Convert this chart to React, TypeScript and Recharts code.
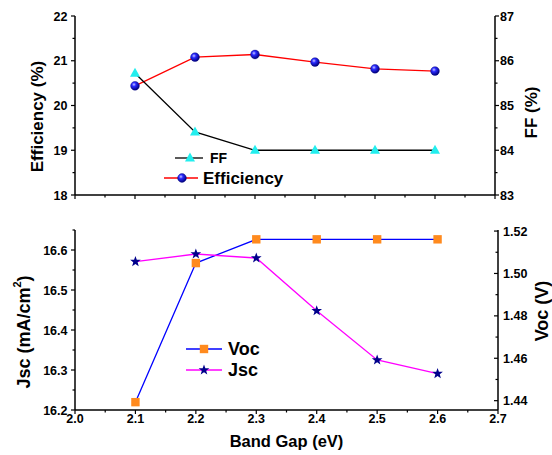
import React from 'react';
import { LineChart, Line, XAxis, YAxis, Legend } from 'recharts';

const FONT = '"Liberation Sans", Arial, sans-serif';

// data
const bandGap = [2.1, 2.2, 2.3, 2.4, 2.5, 2.6];
const efficiency = [20.44, 21.08, 21.14, 20.97, 20.82, 20.77];
const fillFactor = [85.72, 84.41, 84.0, 84.0, 84.0, 84.0];
const jsc = [16.571, 16.59, 16.58, 16.448, 16.325, 16.291];
const voc = [1.4393, 1.5049, 1.5161, 1.5161, 1.5161, 1.5161];

// ticks
const gapMajor = [2.0, 2.1, 2.2, 2.3, 2.4, 2.5, 2.6, 2.7];
const gapMinor = [2.05, 2.15, 2.25, 2.35, 2.45, 2.55, 2.65];
const effMajor = [18, 19, 20, 21, 22];
const effMinor = [18.5, 19.5, 20.5, 21.5];
const ffMajor = [83, 84, 85, 86, 87];
const ffMinor = [83.5, 84.5, 85.5, 86.5];
const jscMajor = [16.2, 16.3, 16.4, 16.5, 16.6];
const jscMinor = [16.25, 16.35, 16.45, 16.55, 16.65];
const vocMajor = [1.44, 1.46, 1.48, 1.5, 1.52];
const vocMinor = [1.45, 1.47, 1.49, 1.51];

const topRows = bandGap.map((g, i) => ({ gap: g, eff: efficiency[i], ff: fillFactor[i] }));
const bottomRows = bandGap.map((g, i) => ({ gap: g, jsc: jsc[i], voc: voc[i] }));

const tickText = { fontFamily: FONT, fontWeight: 700, fontSize: 12.5, fill: '#000' };
const axisLine = { stroke: '#000', strokeWidth: 1.5 };

type Side = 'left' | 'right' | 'bottom' | 'top';

const makeTick = (side: Side, majors: number[], digits: number | null, inward = false) => (p: any) => {
  const { x, y, payload } = p;
  const v = payload.value;
  const major = majors.some((m) => Math.abs(m - v) < 1e-6);
  const len = major ? 4 : 2.5;
  const dir = inward ? -1 : 1;
  const showLabel = major && digits !== null;
  const txt = showLabel ? Number(v).toFixed(digits as number) : '';
  if (side === 'left') {
    return (
      <g>
        <line x1={x} y1={y} x2={x - dir * len} y2={y} stroke="#000" strokeWidth={1.2} />
        {showLabel && <text x={x - 7.5} y={y + 4.5} textAnchor="end" {...tickText}>{txt}</text>}
      </g>
    );
  }
  if (side === 'right') {
    return (
      <g>
        <line x1={x} y1={y} x2={x + dir * len} y2={y} stroke="#000" strokeWidth={1.2} />
        {showLabel && <text x={x + 5} y={y + 4.5} textAnchor="start" {...tickText}>{txt}</text>}
      </g>
    );
  }
  if (side === 'top') {
    return <line x1={x} y1={y} x2={x} y2={y + len} stroke="#000" strokeWidth={1.2} />;
  }
  return (
    <g>
      <line x1={x} y1={y} x2={x} y2={y + dir * len} stroke="#000" strokeWidth={1.2} />
      {showLabel && <text x={x} y={y + 13} textAnchor="middle" {...tickText}>{txt}</text>}
    </g>
  );
};

// markers
const Triangle = ({ cx, cy }: { cx: number; cy: number }) => (
  <polygon points={`${cx},${cy - 5.5} ${cx - 5},${cy + 3.5} ${cx + 5},${cy + 3.5}`} fill="#22EEEE" />
);
const Sphere = ({ cx, cy }: { cx: number; cy: number }) => (
  <circle cx={cx} cy={cy} r={4.4} fill="url(#sphereGrad)" stroke="#000080" strokeWidth={0.4} />
);
const Square = ({ cx, cy }: { cx: number; cy: number }) => (
  <rect x={cx - 4.2} y={cy - 4.2} width={8.4} height={8.4} fill="#FF8A1E" />
);
const Star = ({ cx, cy }: { cx: number; cy: number }) => {
  const pts: string[] = [];
  for (let k = 0; k < 10; k++) {
    const r = k % 2 === 0 ? 5.6 : 2.3;
    const a = -Math.PI / 2 + (k * Math.PI) / 5;
    pts.push(`${cx + r * Math.cos(a)},${cy + r * Math.sin(a)}`);
  }
  return <polygon points={pts.join(' ')} fill="#00008B" />;
};

const SphereDefs = () => (
  <defs>
    <radialGradient id="sphereGrad" cx="38%" cy="35%" r="65%">
      <stop offset="0%" stopColor="#c8c8ff" />
      <stop offset="35%" stopColor="#2a2aff" />
      <stop offset="100%" stopColor="#00007a" />
    </radialGradient>
  </defs>
);

const TopLegend = () => (
  <svg width={140} height={45} style={{ overflow: 'visible' }}>
    <line x1={25} y1={13} x2={53} y2={13} stroke="#000" strokeWidth={1.3} />
    <Triangle cx={40} cy={13} />
    <text x={60} y={13} dy="0.36em" fontFamily={FONT} fontWeight={700} fontSize={14}>FF</text>
    <line x1={14} y1={33} x2={48} y2={33} stroke="#FF0000" strokeWidth={1.3} />
    <Sphere cx={32} cy={33} />
    <text x={53} y={33} dy="0.36em" fontFamily={FONT} fontWeight={700} fontSize={17}>Efficiency</text>
  </svg>
);

const BottomLegend = () => (
  <svg width={100} height={55} style={{ overflow: 'visible' }}>
    <line x1={6} y1={19} x2={42} y2={19} stroke="#0000FF" strokeWidth={1.3} />
    <Square cx={24} cy={19} />
    <text x={48} y={19} dy="0.36em" fontFamily={FONT} fontWeight={700} fontSize={18}>Voc</text>
    <line x1={6} y1={40} x2={42} y2={40} stroke="#FF00FF" strokeWidth={1.3} />
    <Star cx={24} cy={40} />
    <text x={48} y={40} dy="0.36em" fontFamily={FONT} fontWeight={700} fontSize={18}>Jsc</text>
  </svg>
);

const vTitle = (x: number, y: number, size: number, children: React.ReactNode) => () => (
  <text
    x={x}
    y={y}
    transform={`rotate(-90 ${x} ${y})`}
    textAnchor="middle"
    dominantBaseline="central"
    fontFamily={FONT}
    fontWeight={700}
    fontSize={size}
    fill="#000"
  >
    {children}
  </text>
);

export default function App() {
  return (
    <div style={{ position: 'absolute', left: 0, top: 0, width: 552, height: 455, background: '#fff', fontFamily: FONT }}>
      <div style={{ position: 'absolute', left: 0, top: 0 }}>
        <LineChart width={552} height={215} data={topRows} margin={{ top: 16, right: 0, bottom: 0, left: 0 }}>
          <SphereDefs />
          <XAxis
            dataKey="gap"
            type="number"
            domain={[2.0, 2.7]}
            allowDataOverflow
            ticks={[...gapMajor, ...gapMinor]}
            interval={0}
            height={20}
            tickSize={0}
            tickMargin={0}
            tickLine={false}
            axisLine={axisLine}
            tick={makeTick('bottom', gapMajor, null)}
          />
          <XAxis
            xAxisId="top"
            orientation="top"
            dataKey="gap"
            type="number"
            domain={[2.0, 2.7]}
            allowDataOverflow
            ticks={[...gapMajor, ...gapMinor]}
            interval={0}
            height={0}
            tickSize={0}
            tickMargin={0}
            tickLine={false}
            axisLine={axisLine}
            tick={makeTick('top', gapMajor, null)}
          />
          <YAxis
            yAxisId="left"
            orientation="left"
            width={75}
            domain={[18, 22]}
            allowDataOverflow
            ticks={[...effMajor, ...effMinor]}
            interval={0}
            tickSize={0}
            tickMargin={0}
            tickLine={false}
            axisLine={axisLine}
            tick={makeTick('left', effMajor, 0)}
            label={vTitle(37, 116.5, 17, 'Efficiency (%)')}
          />
          <YAxis
            yAxisId="right"
            orientation="right"
            width={57}
            domain={[83, 87]}
            allowDataOverflow
            ticks={[...ffMajor, ...ffMinor]}
            interval={0}
            tickSize={0}
            tickMargin={0}
            tickLine={false}
            axisLine={axisLine}
            tick={makeTick('right', ffMajor, 0)}
            label={vTitle(531.5, 112.5, 17, 'FF (%)')}
          />
          <Line
            yAxisId="left"
            dataKey="eff"
            name="Efficiency"
            stroke="#FF0000"
            strokeWidth={1.3}
            isAnimationActive={false}
            activeDot={false}
            dot={(p: any) => <Sphere key={`e${p.index}`} cx={p.cx} cy={p.cy} />}
          />
          <Line
            yAxisId="right"
            dataKey="ff"
            name="FF"
            stroke="#000000"
            strokeWidth={1.3}
            isAnimationActive={false}
            activeDot={false}
            dot={(p: any) => <Triangle key={`f${p.index}`} cx={p.cx} cy={p.cy} />}
          />
          <Legend
            layout="vertical"
            verticalAlign="middle"
            align="center"
            wrapperStyle={{ left: 150, top: 145, width: 140, height: 45 }}
            content={() => <TopLegend />}
          />
        </LineChart>
      </div>
      <div style={{ position: 'absolute', left: 0, top: 215 }}>
        <LineChart width={552} height={240} data={bottomRows} margin={{ top: 15, right: 0, bottom: 0, left: 0 }}>
          <XAxis
            dataKey="gap"
            type="number"
            domain={[2.0, 2.7]}
            allowDataOverflow
            ticks={[...gapMajor, ...gapMinor]}
            interval={0}
            height={45}
            tickSize={0}
            tickMargin={0}
            tickLine={false}
            axisLine={axisLine}
            tick={makeTick('bottom', gapMajor, 1)}
            label={() => (
              <text x={286.5} y={232} textAnchor="middle" fontFamily={FONT} fontWeight={700} fontSize={16.5} fill="#000">
                Band Gap (eV)
              </text>
            )}
          />
          <YAxis
            yAxisId="left"
            orientation="left"
            width={75}
            domain={[16.2, 16.65]}
            allowDataOverflow
            ticks={[...jscMajor, ...jscMinor]}
            interval={0}
            tickSize={0}
            tickMargin={0}
            tickLine={false}
            axisLine={axisLine}
            tick={makeTick('left', jscMajor, 1)}
            label={vTitle(
              24,
              117,
              18,
              <>
                <tspan>Jsc (mA/cm</tspan>
                <tspan dy={-7} fontSize={11}>2</tspan>
                <tspan dy={7}>)</tspan>
              </>
            )}
          />
          <YAxis
            yAxisId="right"
            orientation="right"
            width={54}
            domain={[1.4356, 1.5205]}
            allowDataOverflow
            ticks={[...vocMajor, ...vocMinor]}
            interval={0}
            tickSize={0}
            tickMargin={0}
            tickLine={false}
            axisLine={axisLine}
            tick={makeTick('right', vocMajor, 2, true)}
            label={vTitle(541.5, 96, 18, 'Voc (V)')}
          />
          <Line
            yAxisId="right"
            dataKey="voc"
            name="Voc"
            stroke="#0000FF"
            strokeWidth={1.3}
            isAnimationActive={false}
            activeDot={false}
            dot={(p: any) => <Square key={`v${p.index}`} cx={p.cx} cy={p.cy} />}
          />
          <Line
            yAxisId="left"
            dataKey="jsc"
            name="Jsc"
            stroke="#FF00FF"
            strokeWidth={1.3}
            isAnimationActive={false}
            activeDot={false}
            dot={(p: any) => <Star key={`j${p.index}`} cx={p.cx} cy={p.cy} />}
          />
          <Legend
            layout="vertical"
            verticalAlign="middle"
            align="center"
            wrapperStyle={{ left: 180, top: 115, width: 100, height: 55 }}
            content={() => <BottomLegend />}
          />
        </LineChart>
      </div>
    </div>
  );
}
